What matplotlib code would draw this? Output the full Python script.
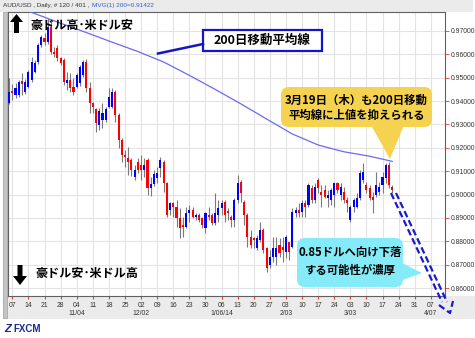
import matplotlib
matplotlib.use("Agg")
import matplotlib.pyplot as plt
from matplotlib.patches import Rectangle, FancyBboxPatch, Polygon
from matplotlib.transforms import Affine2D, IdentityTransform
from matplotlib.ticker import MultipleLocator, FormatStrFormatter
import numpy as np

W, H = 475, 338

# daily AUD/USD candles, 4 Oct 2013 .. 20 Mar 2014
opens = [0.9393, 0.9445, 0.9426, 0.9426, 0.9484, 0.9440, 0.9462, 0.9490, 0.9526, 0.9569,
         0.9640, 0.9668, 0.9654, 0.9715, 0.9610, 0.9626, 0.9583, 0.9576, 0.9476, 0.9490,
         0.9462, 0.9462, 0.9476, 0.9512, 0.9569, 0.9455, 0.9390, 0.9364, 0.9298, 0.9319,
         0.9319, 0.9376, 0.9376, 0.9440, 0.9340, 0.9233, 0.9169, 0.9155, 0.9148, 0.9077,
         0.9141, 0.9126, 0.9105, 0.9148, 0.9027, 0.9045, 0.9070, 0.9112, 0.9140, 0.9050,
         0.8934, 0.8962, 0.8948, 0.8898, 0.8870, 0.8862, 0.8920, 0.8934, 0.8905, 0.8912,
         0.8898, 0.8855, 0.8912, 0.8912, 0.8877, 0.8912, 0.8941, 0.8970, 0.8930, 0.8905,
         0.8891, 0.8977, 0.9055, 0.8970, 0.8912, 0.8820, 0.8813, 0.8770, 0.8806, 0.8848,
         0.8770, 0.8699, 0.8734, 0.8734, 0.8784, 0.8777, 0.8756, 0.8798, 0.8777, 0.8920,
         0.8934, 0.8927, 0.8962, 0.8955, 0.9030, 0.8977, 0.9062, 0.9012, 0.9019, 0.8984,
         0.8977, 0.8998, 0.9048, 0.9000, 0.9012, 0.8977, 0.8891, 0.8948, 0.8948, 0.8984,
         0.9062, 0.9041, 0.9027, 0.8991, 0.9000, 0.9012, 0.9041, 0.9070, 0.9127, 0.9034]
highs = [0.9497, 0.9475, 0.9476, 0.9490, 0.9519, 0.9495, 0.9533, 0.9590, 0.9576, 0.9650,
         0.9683, 0.9690, 0.9757, 0.9745, 0.9633, 0.9640, 0.9590, 0.9583, 0.9526, 0.9519,
         0.9497, 0.9519, 0.9555, 0.9576, 0.9580, 0.9483, 0.9397, 0.9369, 0.9369, 0.9390,
         0.9373, 0.9455, 0.9455, 0.9447, 0.9347, 0.9240, 0.9190, 0.9205, 0.9155, 0.9126,
         0.9155, 0.9169, 0.9155, 0.9155, 0.9077, 0.9105, 0.9119, 0.9162, 0.9148, 0.9055,
         0.8970, 0.8970, 0.8977, 0.8941, 0.8905, 0.8948, 0.8955, 0.8948, 0.8920, 0.8920,
         0.8905, 0.8927, 0.8948, 0.8920, 0.9005, 0.8977, 0.8977, 0.8977, 0.8941, 0.8912,
         0.8984, 0.9084, 0.9062, 0.8977, 0.8920, 0.8848, 0.8820, 0.8827, 0.8884, 0.8855,
         0.8777, 0.8763, 0.8820, 0.8820, 0.8813, 0.8820, 0.8827, 0.8798, 0.8941, 0.8948,
         0.8962, 0.8977, 0.8977, 0.9048, 0.9041, 0.9048, 0.9070, 0.9041, 0.9041, 0.9019,
         0.9027, 0.9055, 0.9055, 0.9048, 0.9034, 0.8991, 0.8955, 0.8984, 0.9005, 0.9105,
         0.9134, 0.9055, 0.9041, 0.9012, 0.9098, 0.9055, 0.9098, 0.9134, 0.9141, 0.9041]
lows = [0.9388, 0.9405, 0.9412, 0.9418, 0.9426, 0.9430, 0.9455, 0.9483, 0.9519, 0.9560,
        0.9633, 0.9640, 0.9645, 0.9600, 0.9590, 0.9570, 0.9555, 0.9470, 0.9447, 0.9440,
        0.9426, 0.9455, 0.9466, 0.9505, 0.9440, 0.9347, 0.9347, 0.9269, 0.9276, 0.9283,
        0.9312, 0.9369, 0.9369, 0.9312, 0.9198, 0.9141, 0.9119, 0.9083, 0.9080, 0.9062,
        0.9091, 0.9062, 0.9077, 0.8997, 0.8994, 0.9035, 0.9048, 0.9077, 0.9012, 0.8905,
        0.8912, 0.8905, 0.8862, 0.8813, 0.8820, 0.8855, 0.8884, 0.8898, 0.8891, 0.8884,
        0.8855, 0.8834, 0.8891, 0.8870, 0.8870, 0.8884, 0.8912, 0.8884, 0.8891, 0.8862,
        0.8862, 0.8962, 0.8970, 0.8870, 0.8777, 0.8770, 0.8770, 0.8763, 0.8798, 0.8748,
        0.8670, 0.8684, 0.8713, 0.8699, 0.8734, 0.8713, 0.8727, 0.8720, 0.8770, 0.8905,
        0.8905, 0.8905, 0.8905, 0.8948, 0.8962, 0.8962, 0.9005, 0.8948, 0.8984, 0.8948,
        0.8955, 0.8948, 0.9005, 0.8977, 0.8962, 0.8927, 0.8884, 0.8927, 0.8941, 0.8977,
        0.9048, 0.9005, 0.8977, 0.8920, 0.8991, 0.8998, 0.9005, 0.9048, 0.9030, 0.9005]
closes = [0.9440, 0.9436, 0.9455, 0.9483, 0.9473, 0.9483, 0.9526, 0.9569, 0.9562, 0.9640,
          0.9676, 0.9654, 0.9715, 0.9610, 0.9600, 0.9583, 0.9562, 0.9483, 0.9490, 0.9455,
          0.9440, 0.9512, 0.9547, 0.9569, 0.9455, 0.9390, 0.9376, 0.9305, 0.9357, 0.9348,
          0.9364, 0.9419, 0.9440, 0.9340, 0.9233, 0.9169, 0.9162, 0.9140, 0.9105, 0.9105,
          0.9105, 0.9105, 0.9126, 0.9027, 0.9045, 0.9088, 0.9091, 0.9148, 0.9050, 0.8912,
          0.8962, 0.8948, 0.8898, 0.8855, 0.8862, 0.8920, 0.8934, 0.8905, 0.8912, 0.8891,
          0.8870, 0.8920, 0.8905, 0.8877, 0.8920, 0.8941, 0.8962, 0.8912, 0.8920, 0.8891,
          0.8977, 0.9048, 0.9005, 0.8912, 0.8820, 0.8784, 0.8806, 0.8813, 0.8848, 0.8763,
          0.8684, 0.8734, 0.8770, 0.8770, 0.8748, 0.8763, 0.8820, 0.8756, 0.8927, 0.8934,
          0.8920, 0.8962, 0.8948, 0.9041, 0.8977, 0.9034, 0.9027, 0.8998, 0.8991, 0.8998,
          0.9019, 0.9048, 0.9019, 0.9034, 0.8977, 0.8962, 0.8948, 0.8977, 0.8984, 0.9091,
          0.9098, 0.9019, 0.8984, 0.8977, 0.9041, 0.9034, 0.9077, 0.9127, 0.9041, 0.9019]

# 200-day moving average, read at a few bars
ma_bar = [0, 8, 16, 24, 32, 40, 48, 56, 64, 72, 80, 88, 96, 104, 112, 119]
ma_val = [0.9814, 0.9774, 0.9733, 0.9693, 0.9652, 0.9612, 0.9567, 0.9510,
          0.9450, 0.9388, 0.9323, 0.9259, 0.9212, 0.9183, 0.9164, 0.9142]

# weekly ticks, first one on Mon 7 Oct (bar 1)
day_labels = ['07', '14', '21', '28', '04', '11', '18', '25', '02', '09', '16', '23', '30',
              '06', '13', '20', '27', '03', '10', '17', '24', '03', '10', '17', '24', '31', '07']
month_labels = {4: '11/04', 8: '12/02', 13: '1/06/14', 17: '2/03', 21: '3/03', 26: '4/07'}

JP = ['Noto Sans CJK JP', 'DejaVu Sans']
plt.rcParams['font.family'] = ['Liberation Sans', 'DejaVu Sans']

fig = plt.figure(figsize=(W / 100, H / 100), dpi=100)
fig.patch.set_facecolor('white')
# pixel coords, y measured from the top
pix = Affine2D().scale(1, -1).translate(0, H) + IdentityTransform()

# background strips (behind the axes)
for r in [Rectangle((0, 0), 473, 11.5, facecolor='#ebebeb', edgecolor='none'),
          Rectangle((3, 296), 472, 23, facecolor='#ebebeb', edgecolor='none'),
          Rectangle((2.5, 12), 4.5, 306, facecolor='#c4c4c4', edgecolor='#a0a0a0', lw=0.5)]:
    r.set_transform(pix)
    r.set_zorder(-5)
    fig.patches.append(r)

ax = fig.add_axes([8 / W, 1 - 296 / H, (445 - 8) / W, (296 - 12) / H])
ax.set_xlim(-0.34, 135.4)
ax.set_ylim(0.8566, 0.9781)

o = np.array(opens)
c = np.array(closes)
x = np.arange(len(o))
cols = np.where(c >= o, '#0000ff', '#ff0000')
ax.vlines(x, lows, highs, color='#7a7a7a', lw=0.8, zorder=2)
body = np.maximum(np.abs(c - o), 0.0003)
ax.bar(x, body, bottom=np.minimum(o, c), width=0.65, color=cols, zorder=3)

ax.plot(ma_bar, ma_val, color='#6a6af2', lw=0.9, zorder=4)

tick_pos = [1 + 5 * k for k in range(len(day_labels))]
ax.set_xticks(tick_pos)
ax.set_xticklabels(day_labels)
ax.yaxis.tick_right()
ax.yaxis.set_major_locator(MultipleLocator(0.01))
ax.yaxis.set_major_formatter(FormatStrFormatter('%.5f'))
ax.tick_params(axis='x', length=2, width=0.8, color='#ff3030', pad=2.5, labelsize=4.9, labelcolor='#333333')
ax.tick_params(axis='y', length=3, width=0.6, color='#ff3030', pad=1, labelsize=4.9, labelcolor='#333333')
ax.grid(True, color='#e3e3e3', lw=0.8)
ax.set_axisbelow(True)
for s in ax.spines.values():
    s.set_color('#606060')
    s.set_linewidth(0.8)

for k, lab in month_labels.items():
    ax.text(tick_pos[k], -0.062, lab, transform=ax.get_xaxis_transform(),
            ha='center', va='center', fontsize=4.9, color='#333333')

# title line
t1 = fig.text(3, 6, 'AUD/USD , Daily, # 120 / 401 , ', transform=pix, fontsize=4.6,
              color='#333333', va='center')
x_end = t1.get_window_extent(renderer=fig.canvas.get_renderer()).x1
fig.text(x_end + 1, 6, 'MVG(1) 200=0.91422', transform=pix, fontsize=4.6,
         color='#3a5ad0', va='center')

# up / down arrows with labels
up = Polygon([(14, 33), (19, 33), (19, 22), (23, 22), (16.5, 14), (10, 22), (14, 22)],
             closed=True, transform=pix, facecolor='black', edgecolor='none')
down = Polygon([(17.5, 265), (22.5, 265), (22.5, 276), (27, 276), (20, 285), (13, 276), (17.5, 276)],
               closed=True, transform=pix, facecolor='black', edgecolor='none')
fig.patches.extend([up, down])
fig.text(30, 25, '豪ドル高･米ドル安', transform=pix, family=JP, fontsize=8.7,
         fontweight='bold', va='center')
fig.text(35, 273, '豪ドル安･米ドル高', transform=pix, family=JP, fontsize=8.7,
         fontweight='bold', va='center')

# 200-day MA label box
fig.lines.append(plt.Line2D([158, 203], [53.5, 44], transform=pix, color='#1414c8', lw=1.8))
fig.patches.append(Rectangle((203, 30), 119, 20.5, transform=pix, facecolor='white',
                             edgecolor='#1414c8', lw=1.6))
fig.text(262.5, 40.5, '200日移動平均線', transform=pix, family=JP, fontsize=9,
         fontweight='bold', ha='center', va='center')

# yellow callout
fig.patches.append(Polygon([(371, 125), (404, 125), (390, 159)], closed=True, transform=pix,
                           facecolor='#f5d24f', edgecolor='none'))
fig.patches.append(FancyBboxPatch((281, 87), 151, 40, boxstyle='round,pad=0,rounding_size=8',
                                  transform=pix, facecolor='#f5d24f', edgecolor='none'))
fig.text(356.5, 100, '3月19日（木）も200日移動', transform=pix, family=JP, fontsize=8.2,
         fontweight='bold', ha='center', va='center')
fig.text(356.5, 115, '平均線に上値を抑えられる', transform=pix, family=JP, fontsize=8.2,
         fontweight='bold', ha='center', va='center')

# dashed projection arrow
for dx in (0, 5):
    fig.lines.append(plt.Line2D([391 + dx, 442 + dx], [193, 302], transform=pix, color='#1a1ad0',
                                lw=1.6, ls=(0, (3, 1.5))))
fig.lines.append(plt.Line2D([439, 450, 453], [305, 313, 301], transform=pix, color='#1a1ad0',
                            lw=1.6, ls=(0, (3, 1.5))))

# cyan callout
fig.patches.append(Polygon([(400, 262), (400, 281), (422, 273)], closed=True, transform=pix,
                           facecolor='#86ebf9', edgecolor='none'))
fig.patches.append(FancyBboxPatch((297, 238), 106, 49, boxstyle='round,pad=0,rounding_size=8',
                                  transform=pix, facecolor='#86ebf9', edgecolor='none'))
fig.text(350, 252, '0.85ドルへ向け下落', transform=pix, family=JP, fontsize=8.2,
         fontweight='bold', ha='center', va='center')
fig.text(350, 270, 'する可能性が濃厚', transform=pix, family=JP, fontsize=8.2,
         fontweight='bold', ha='center', va='center')

# logo
fig.text(4, 329, 'Z', transform=pix, fontsize=8, fontweight='bold', style='italic',
         color='#1c2a8c', va='center')
fig.text(13, 329, 'FXCM', transform=pix, fontsize=7, fontweight='bold', color='#1c2a8c', va='center')

fig.savefig('out.png', dpi=100)
